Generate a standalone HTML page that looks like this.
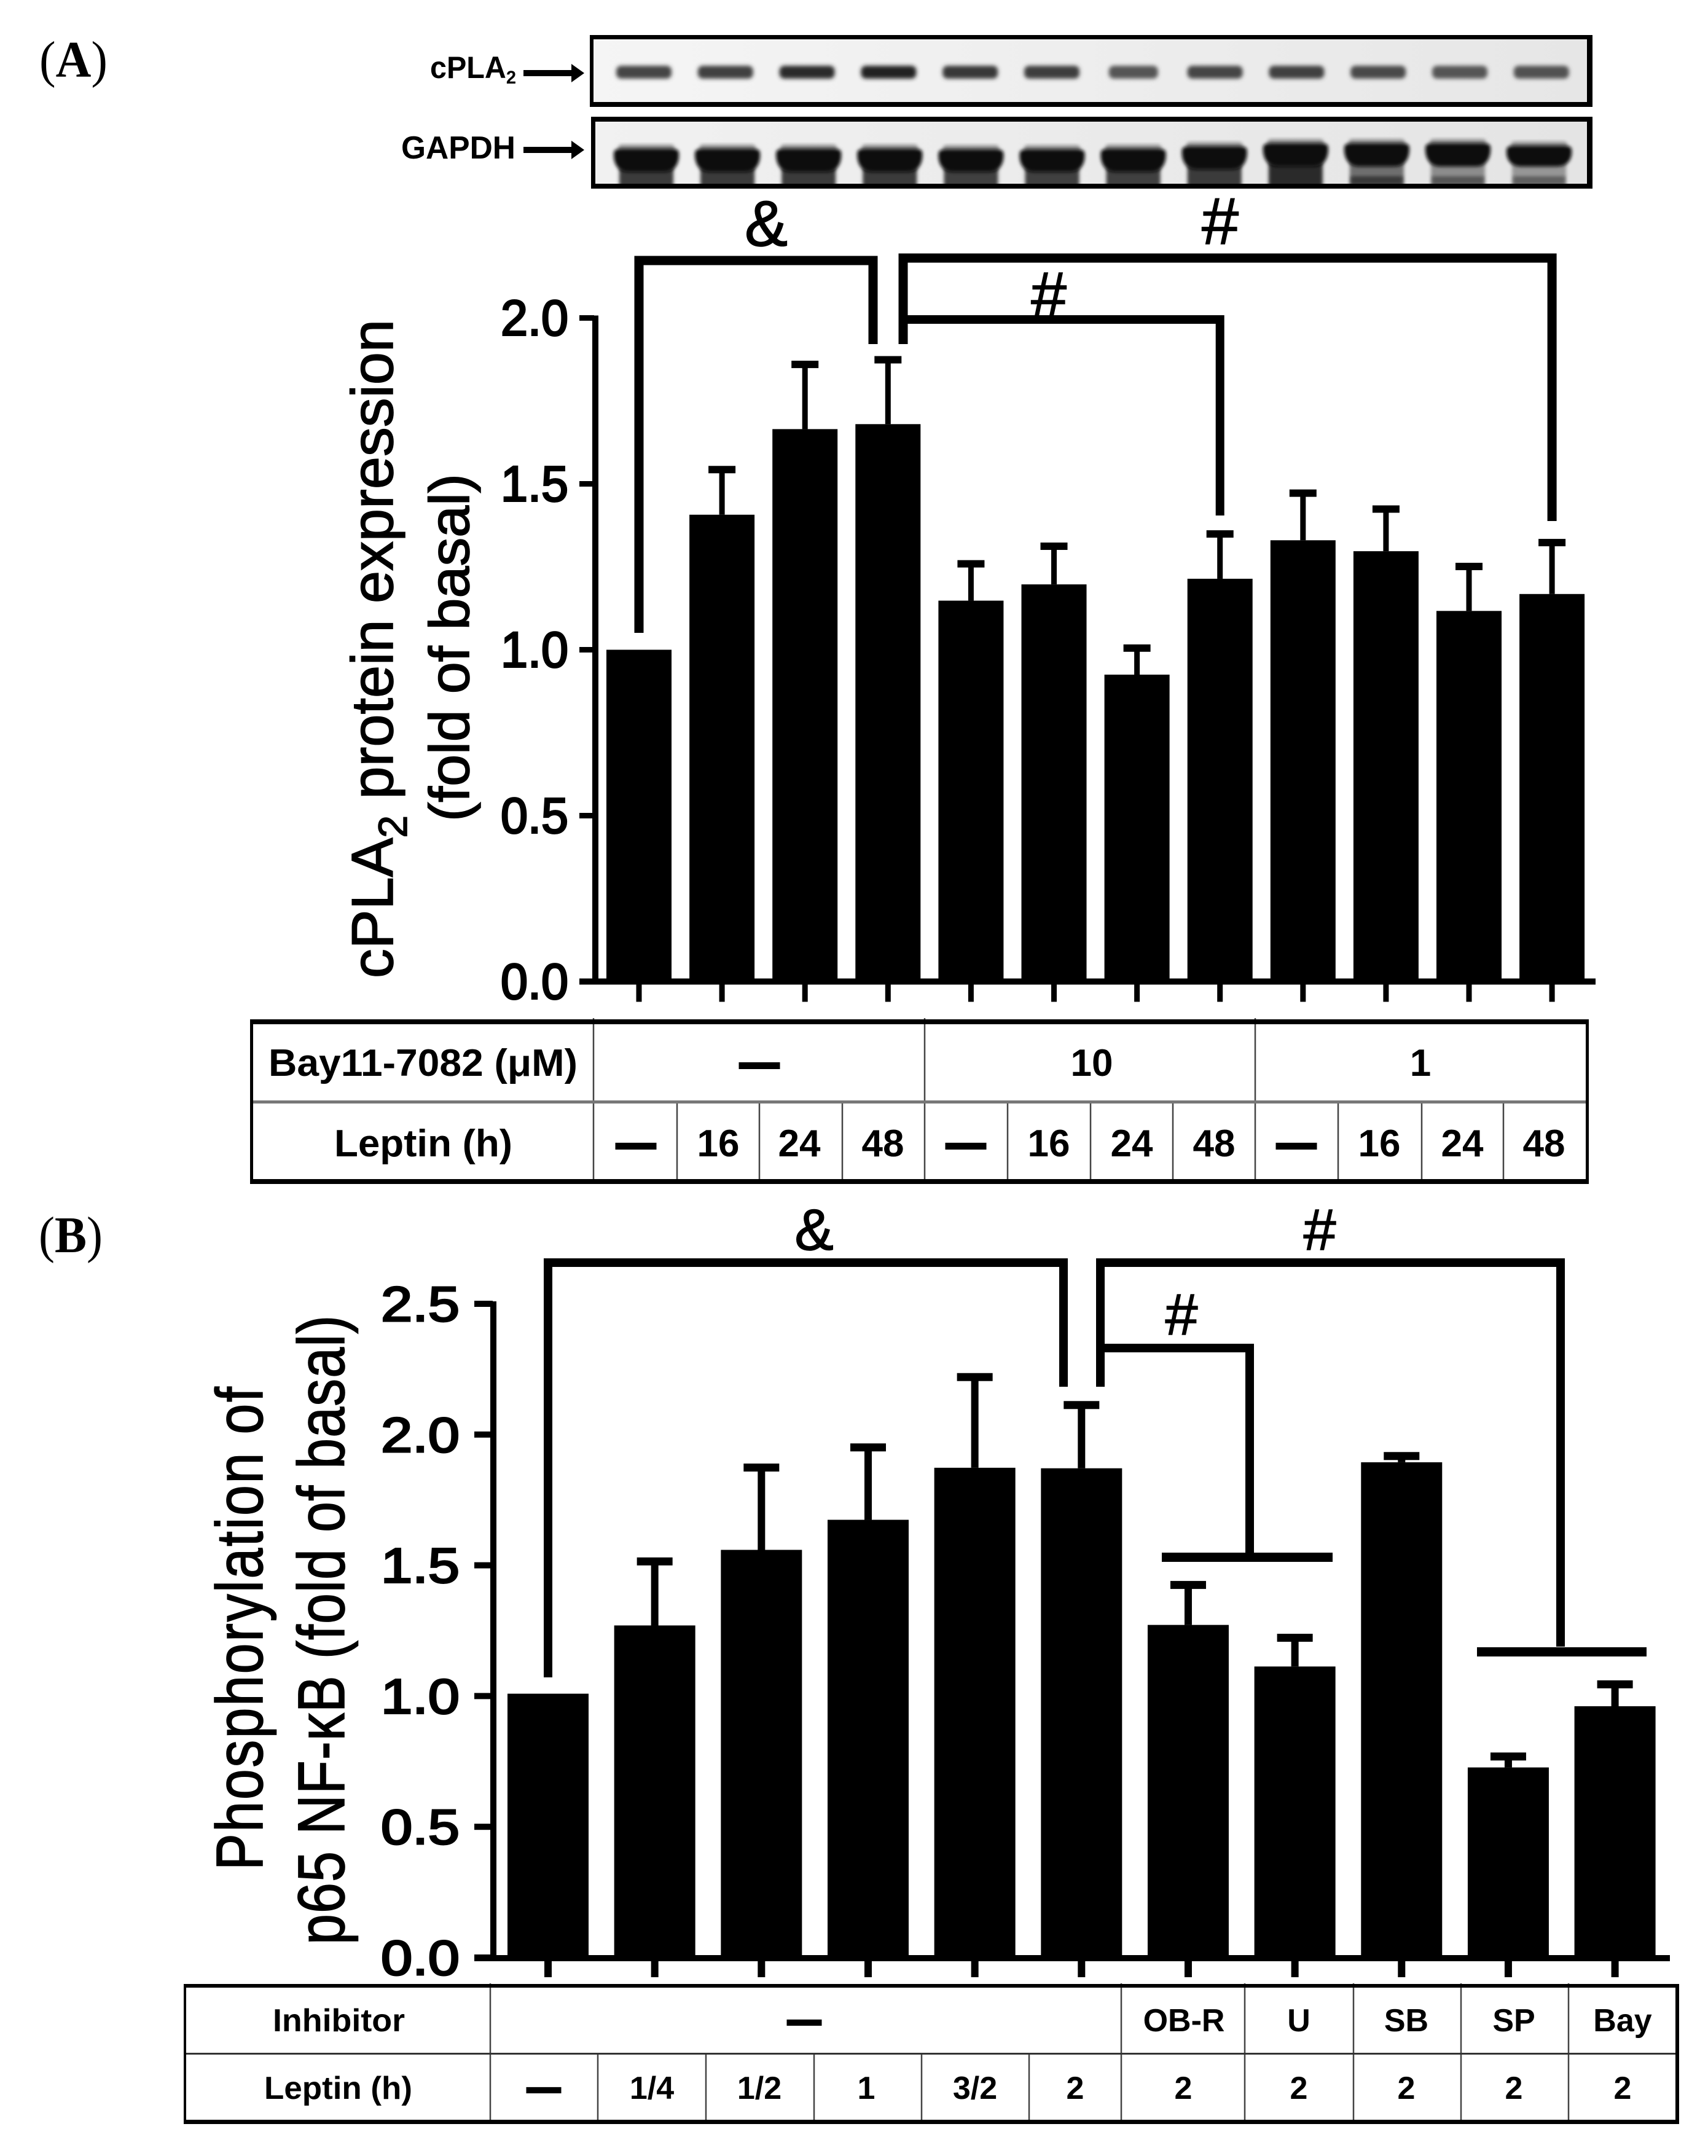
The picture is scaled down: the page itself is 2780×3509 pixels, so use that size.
<!DOCTYPE html>
<html lang="en">
<head>
<meta charset="utf-8">
<title>cPLA2 and NF-kB bar charts</title>
<style>
html,body{margin:0;padding:0;background:#fff;}
#figure{display:block;width:2780px;height:3509px;}
text{font-family:"Liberation Sans",sans-serif;fill:#000;}
.serif{font-family:"Liberation Serif",serif;}
.cell{font-weight:bold;text-anchor:middle;}
.dash{stroke:#000;stroke-width:5px;}
.title{stroke:#000;stroke-width:1.6px;}
.sig{stroke:#000;stroke-width:1.5px;text-anchor:middle;}
.ln{stroke:#000;fill:none;stroke-linecap:butt;}
.vl{stroke:#444;stroke-width:2.5;}
</style>
</head>
<body>
<svg id="figure" xmlns="http://www.w3.org/2000/svg" width="2780" height="3509" viewBox="0 0 2780 3509">
<defs>
<filter id="blurBand" x="-20%" y="-60%" width="140%" height="220%"><feGaussianBlur stdDeviation="3.5"/></filter>
<filter id="blurLane" x="-20%" y="-30%" width="140%" height="160%"><feGaussianBlur stdDeviation="3"/></filter>
<clipPath id="clipBlot2"><rect x="969" y="198" width="1614" height="101"/></clipPath>
<clipPath id="clipBlot1"><rect x="966" y="64" width="1617" height="102"/></clipPath>
<linearGradient id="blotFill1" x1="0" x2="1" y1="0" y2="0"><stop offset="0" stop-color="#f5f5f5"/><stop offset="1" stop-color="#e6e6e6"/></linearGradient>
<linearGradient id="blotFill2" x1="0" x2="1" y1="0" y2="0"><stop offset="0" stop-color="#f1f1f1"/><stop offset="1" stop-color="#e4e4e4"/></linearGradient>
</defs>
<rect width="2780" height="3509" fill="#fff"/>

<text class="serif" x="64" y="125" font-size="84" textLength="111" lengthAdjust="spacingAndGlyphs">(<tspan font-weight="bold">A</tspan>)</text>
<text class="serif" x="63" y="2038" font-size="84" textLength="104" lengthAdjust="spacingAndGlyphs">(<tspan font-weight="bold">B</tspan>)</text>

<!-- Western blots -->
<g>
  <rect x="960" y="60" width="1632" height="112" fill="url(#blotFill1)"/>
  <g id="blot1Bands" clip-path="url(#clipBlot1)"></g>
  <rect x="960" y="57" width="1632" height="7" fill="#000"/>
  <rect x="960" y="166" width="1632" height="8" fill="#000"/>
  <rect x="960" y="57" width="6" height="117" fill="#000"/>
  <rect x="2583" y="57" width="9" height="117" fill="#000"/>
</g>
<g>
  <rect x="962" y="194" width="1630" height="110" fill="url(#blotFill2)"/>
  <g id="blot2Bands" clip-path="url(#clipBlot2)"></g>
  <rect x="962" y="190" width="1630" height="8" fill="#000"/>
  <rect x="962" y="299" width="1630" height="8" fill="#000"/>
  <rect x="962" y="190" width="7" height="117" fill="#000"/>
  <rect x="2583" y="190" width="9" height="117" fill="#000"/>
</g>
<text x="700" y="127" font-size="50" font-weight="bold" textLength="140" lengthAdjust="spacingAndGlyphs">cPLA<tspan font-size="30" dy="9">2</tspan></text>
<text x="653" y="258" font-size="52" font-weight="bold" textLength="186" lengthAdjust="spacingAndGlyphs">GAPDH</text>
<path d="M852 114H930V104L951 119L930 134V124H852Z" fill="#000"/>
<path d="M852 239H930V229L951 244L930 259V249H852Z" fill="#000"/>

<!-- Panel A chart -->
<g id="chartA"></g>
<text class="title" transform="translate(639,1592) rotate(-90)" font-size="96" textLength="1072" lengthAdjust="spacingAndGlyphs">cPLA<tspan font-size="66" dy="23">2</tspan><tspan dy="-23"> protein expression</tspan></text>
<text class="title" transform="translate(763,1337) rotate(-90)" font-size="92" textLength="566" lengthAdjust="spacingAndGlyphs">(fold of basal)</text>
<text class="sig" x="1247" y="400" font-size="105">&amp;</text>
<text class="sig" x="1986" y="397" font-size="108">#</text>
<text class="sig" x="1707" y="515" font-size="104">#</text>

<!-- Panel A table -->
<g>
  <line class="vl" x1="966" y1="1657" x2="966" y2="1927"/><line class="vl" x1="1505" y1="1657" x2="1505" y2="1927"/><line class="vl" x1="2043" y1="1657" x2="2043" y2="1927"/>
  <line class="vl" x1="1102" y1="1791" x2="1102" y2="1927"/><line class="vl" x1="1236" y1="1791" x2="1236" y2="1927"/><line class="vl" x1="1371" y1="1791" x2="1371" y2="1927"/>
  <line class="vl" x1="1640" y1="1791" x2="1640" y2="1927"/><line class="vl" x1="1775" y1="1791" x2="1775" y2="1927"/><line class="vl" x1="1909" y1="1791" x2="1909" y2="1927"/>
  <line class="vl" x1="2178" y1="1791" x2="2178" y2="1927"/><line class="vl" x1="2314" y1="1791" x2="2314" y2="1927"/><line class="vl" x1="2447" y1="1791" x2="2447" y2="1927"/>
  <rect x="407" y="1659" width="2179" height="8" fill="#000"/>
  <rect x="407" y="1791" width="2179" height="5" fill="#777"/>
  <rect x="407" y="1919" width="2179" height="8" fill="#000"/>
  <rect x="407" y="1659" width="5" height="268" fill="#000"/>
  <rect x="2581" y="1659" width="5" height="268" fill="#000"/>
  <text x="437" y="1751" font-size="62" font-weight="bold" textLength="503" lengthAdjust="spacingAndGlyphs">Bay11-7082 (μM)</text>
  <text x="544" y="1882" font-size="62" font-weight="bold" textLength="290" lengthAdjust="spacingAndGlyphs">Leptin (h)</text>
  <g font-size="62">
  <text class="cell dash" x="1236" y="1751">—</text>
  <text class="cell" x="1777" y="1751">10</text>
  <text class="cell" x="2312" y="1751">1</text>
  <text class="cell dash" x="1035" y="1882">—</text>
  <text class="cell" x="1169" y="1882">16</text>
  <text class="cell" x="1301" y="1882">24</text>
  <text class="cell" x="1437" y="1882">48</text>
  <text class="cell dash" x="1572" y="1882">—</text>
  <text class="cell" x="1707" y="1882">16</text>
  <text class="cell" x="1842" y="1882">24</text>
  <text class="cell" x="1976" y="1882">48</text>
  <text class="cell dash" x="2110" y="1882">—</text>
  <text class="cell" x="2245" y="1882">16</text>
  <text class="cell" x="2380" y="1882">24</text>
  <text class="cell" x="2513" y="1882">48</text>
  </g>
</g>

<!-- Panel B chart -->
<g id="chartB"></g>
<text class="title" transform="translate(427,3044) rotate(-90) scale(.83,1)" font-size="108" textLength="948" lengthAdjust="spacing">Phosphorylation of</text>
<text class="title" transform="translate(560,3165) rotate(-90) scale(.83,1)" font-size="108" textLength="1234" lengthAdjust="spacing">p65 NF-κB (fold of basal)</text>
<text class="sig" x="1325" y="2034" font-size="95">&amp;</text>
<text class="sig" x="2148" y="2034" font-size="95">#</text>
<text class="sig" x="1923" y="2172" font-size="95">#</text>

<!-- Panel B table -->
<g>
  <line class="vl" x1="798" y1="3228" x2="798" y2="3457"/><line class="vl" x1="1825" y1="3228" x2="1825" y2="3457"/><line class="vl" x1="2026" y1="3228" x2="2026" y2="3457"/><line class="vl" x1="2203" y1="3228" x2="2203" y2="3457"/><line class="vl" x1="2378" y1="3228" x2="2378" y2="3457"/><line class="vl" x1="2553" y1="3228" x2="2553" y2="3457"/>
  <line class="vl" x1="973" y1="3341" x2="973" y2="3457"/><line class="vl" x1="1149" y1="3341" x2="1149" y2="3457"/><line class="vl" x1="1325" y1="3341" x2="1325" y2="3457"/><line class="vl" x1="1500" y1="3341" x2="1500" y2="3457"/><line class="vl" x1="1675" y1="3341" x2="1675" y2="3457"/>
  <rect x="299" y="3229" width="2434" height="6" fill="#000"/>
  <rect x="299" y="3341" width="2434" height="3" fill="#333"/>
  <rect x="299" y="3450" width="2434" height="7" fill="#000"/>
  <rect x="299" y="3229" width="4" height="228" fill="#000"/>
  <rect x="2727" y="3229" width="6" height="228" fill="#000"/>
  <text x="444" y="3306" font-size="52" font-weight="bold" textLength="215" lengthAdjust="spacingAndGlyphs">Inhibitor</text>
  <text x="430" y="3416" font-size="52" font-weight="bold" textLength="241" lengthAdjust="spacingAndGlyphs">Leptin (h)</text>
  <g font-size="52">
  <text class="cell dash" x="1309" y="3306">—</text>
  <text class="cell" x="1927" y="3306">OB-R</text>
  <text class="cell" x="2114" y="3306">U</text>
  <text class="cell" x="2289" y="3306">SB</text>
  <text class="cell" x="2464" y="3306">SP</text>
  <text class="cell" x="2641" y="3306">Bay</text>
  <text class="cell dash" x="885" y="3416">—</text>
  <text class="cell" x="1061" y="3416">1/4</text>
  <text class="cell" x="1236" y="3416">1/2</text>
  <text class="cell" x="1410" y="3416">1</text>
  <text class="cell" x="1587" y="3416">3/2</text>
  <text class="cell" x="1750" y="3416">2</text>
  <text class="cell" x="1926" y="3416">2</text>
  <text class="cell" x="2114" y="3416">2</text>
  <text class="cell" x="2289" y="3416">2</text>
  <text class="cell" x="2464" y="3416">2</text>
  <text class="cell" x="2641" y="3416">2</text>
  </g>
</g>
</svg>

<script>
// ---- Panel A data ----
const categoriesA = ['ctl','L16','L24','L48','B10','B10-16','B10-24','B10-48','B1','B1-16','B1-24','B1-48'];
const meansA = [1.0,1.407,1.665,1.68,1.148,1.197,0.925,1.214,1.33,1.297,1.117,1.168];
const errorTopsA = [null,1.543,1.86,1.874,1.259,1.312,1.005,1.349,1.472,1.424,1.251,1.323];
const tickLabelsA = ['0.0','0.5','1.0','1.5','2.0'];

// ---- Panel B data ----
const categoriesB = ['ctl','1/4','1/2','1','3/2','2','OB-R','U','SB','SP','Bay'];
const meansB = [1.009,1.27,1.559,1.674,1.873,1.871,1.272,1.113,1.894,0.727,0.961];
const errorTopsB = [null,1.516,1.875,1.952,2.221,2.114,1.426,1.224,1.919,0.77,1.046];
const tickLabelsB = ['0.0','0.5','1.0','1.5','2.0','2.5'];

// ---- Blot band strength (0..1 darkness) ----
const cplaBandDarkness = [0.72,0.74,0.86,0.92,0.78,0.76,0.62,0.72,0.74,0.68,0.62,0.64];
const gapdhBandTopOffset = [0,0,0,0,1,1,0,-4,-9,-9,-9,-5];
const gapdhTailGrey = [58,58,58,58,64,64,64,58,42,110,140,150];

const NS = 'http://www.w3.org/2000/svg';
function make(tag, attrs, parent){
  const el = document.createElementNS(NS, tag);
  for (const k in attrs) el.setAttribute(k, attrs[k]);
  parent.appendChild(el);
  return el;
}

// Axis functions
const xA = i => 1040 + 135.1 * i;
const yA = v => 1597.5 - 540 * v;
const xB = i => 892 + 173.66 * i;
const yB = v => 3186 - 425.6 * v;

function laneX1(i){ return 1048 + 132.8 * i; }
function laneX2(i){ return 1052 + 132.1 * i; }

// Blots
const blot1 = document.getElementById('blot1Bands');
cplaBandDarkness.forEach((d, i) => {
  const g = Math.round(190 - 170 * d);
  const halfW = i === 6 ? 40 : 45;
  const band = make('rect', {x: laneX1(i) - halfW, y: 107, width: halfW * 2, height: 21, rx: 8, fill: 'rgb(' + g + ',' + g + ',' + g + ')', filter: 'url(#blurBand)'}, blot1);
  
  
});
const blot2 = document.getElementById('blot2Bands');
gapdhBandTopOffset.forEach((d, i) => {
  const x = laneX2(i);
  const top = 242 + d;
  const bot = i >= 8 ? 271 : (i === 7 ? 276 : 280);
  const tg = gapdhTailGrey[i];
  const tail = make('rect', {x: x - 44, y: bot - 8, width: 88, height: 45, fill: 'rgb(' + tg + ',' + tg + ',' + tg + ')', filter: 'url(#blurLane)'}, blot2);
  
  
  if (i >= 9) {
    const sg = tg - 55;
    const streak = make('rect', {x: x - 42, y: 287, width: 84, height: 14, fill: 'rgb(' + sg + ',' + sg + ',' + sg + ')', filter: 'url(#blurLane)'}, blot2);
    
    
  }
  const halo = make('rect', {x: x - 46, y: top - 7, width: 92, height: 12, rx: 6, fill: '#999', filter: 'url(#blurLane)'}, blot2);
  
  
  const pathD = 'M' + (x - 53) + ' ' + (top + 7) + 'Q' + (x - 53) + ' ' + top + ' ' + (x - 40) + ' ' + top + 'H' + (x + 40) + 'Q' + (x + 53) + ' ' + top + ' ' + (x + 53) + ' ' + (top + 7) + 'V' + (top + 14) + 'Q' + (x + 50) + ' ' + bot + ' ' + (x + 28) + ' ' + bot + 'H' + (x - 28) + 'Q' + (x - 50) + ' ' + bot + ' ' + (x - 53) + ' ' + (top + 14) + 'Z';
  const core = make('path', {d: pathD, fill: '#080808', filter: 'url(#blurLane)'}, blot2);
  
  
});

// Panel A
const chartA = document.getElementById('chartA');
const axisA = make('rect', {x: 964, y: yA(2) - 4, width: 10, height: yA(0) - yA(2) + 4, fill: '#000'}, chartA);


meansA.forEach((v, i) => {
  if (errorTopsA[i] !== null) {
    const stem = make('rect', {x: xA(i) - 4.5, y: yA(errorTopsA[i]), width: 9, height: yA(v) - yA(errorTopsA[i]), fill: '#000'}, chartA);
    
    
    const cap = make('rect', {x: xA(i) - 22, y: yA(errorTopsA[i]) - 6, width: 44, height: 12, fill: '#000'}, chartA);
    
    
  }
  const bar = make('rect', {x: xA(i) - 53, y: yA(v), width: 106, height: yA(0) - yA(v), fill: '#000'}, chartA);
  
  
  const tk = make('rect', {x: xA(i) - 4.5, y: yA(0), width: 9, height: 33, fill: '#000'}, chartA);
  
  
});
const baseA = make('rect', {x: 943, y: yA(0) - 5, width: 1654, height: 10, fill: '#000'}, chartA);


tickLabelsA.forEach(t => {
  const yy = yA(parseFloat(t));
  const tk = make('rect', {x: 943, y: yy - 4.5, width: 24, height: 9, fill: '#000'}, chartA);
  
  
  const lb = make('text', {x: 815, y: yy + 28, 'font-size': 82, stroke: '#000', 'stroke-width': 3, textLength: 110, lengthAdjust: 'spacingAndGlyphs'}, chartA);
  
  
  lb.textContent = t;
});

// Panel A brackets
const brA1 = make('path', {class: 'ln', 'stroke-width': 15, d: 'M' + xA(0) + ' 1030V424H1421V560'}, chartA);


const brA2 = make('path', {class: 'ln', 'stroke-width': 15, d: 'M1470 560V420H' + xA(11) + 'V848'}, chartA);


const brA3 = make('path', {class: 'ln', 'stroke-width': 14, d: 'M1470 520H' + xA(7) + 'V839'}, chartA);



// Panel B
const chartB = document.getElementById('chartB');
const axisB = make('rect', {x: 798, y: yB(2.5) - 4, width: 10, height: yB(0) - yB(2.5) + 4, fill: '#000'}, chartB);


meansB.forEach((v, i) => {
  if (errorTopsB[i] !== null) {
    const stem = make('rect', {x: xB(i) - 6, y: yB(errorTopsB[i]), width: 12, height: yB(v) - yB(errorTopsB[i]), fill: '#000'}, chartB);
    
    
    const cap = make('rect', {x: xB(i) - 29, y: yB(errorTopsB[i]) - 6, width: 58, height: 13, fill: '#000'}, chartB);
    
    
  }
  const bar = make('rect', {x: xB(i) - 66, y: yB(v), width: 132, height: yB(0) - yB(v), fill: '#000'}, chartB);
  
  
  const tk = make('rect', {x: xB(i) - 6, y: yB(0), width: 12, height: 32, fill: '#000'}, chartB);
  
  
});
const baseB = make('rect', {x: 772, y: yB(0) - 4, width: 1946, height: 10, fill: '#000'}, chartB);


tickLabelsB.forEach(t => {
  const yy = yB(parseFloat(t));
  const tk = make('rect', {x: 772, y: yy - 5, width: 30, height: 10, fill: '#000'}, chartB);
  
  
  const lb = make('text', {x: 620, y: yy + 28, 'font-size': 80, stroke: '#000', 'stroke-width': 3, textLength: 128, lengthAdjust: 'spacingAndGlyphs'}, chartB);
  
  
  lb.textContent = t;
});

// Panel B brackets
const brB1 = make('path', {class: 'ln', 'stroke-width': 14, d: 'M' + xB(0) + ' 2730V2055H1731V2257'}, chartB);


const brB2 = make('path', {class: 'ln', 'stroke-width': 14, d: 'M1791 2257V2055H2540V2680'}, chartB);


const brB3 = make('path', {class: 'ln', 'stroke-width': 14, d: 'M1791 2194H2034V2529'}, chartB);


const tb1 = make('rect', {x: 1891, y: 2527, width: 278, height: 15, fill: '#000'}, chartB);


const tb2 = make('rect', {x: 2404, y: 2681, width: 276, height: 15, fill: '#000'}, chartB);


</script>
</body>
</html>
